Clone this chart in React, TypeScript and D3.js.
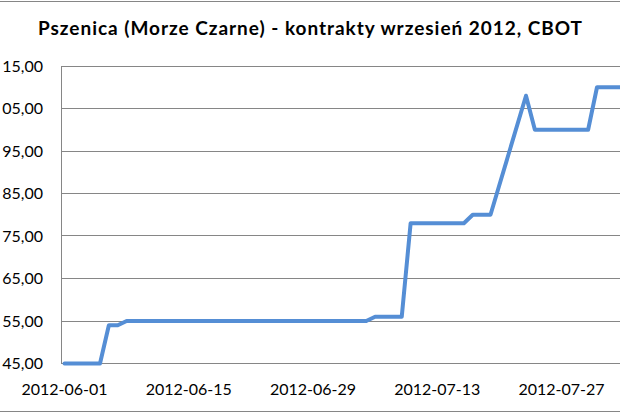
import React from 'react';
import * as d3 from 'd3';

const TITLE = 'Pszenica (Morze Czarne) - kontrakty wrzesień 2012, CBOT';

const dates: string[] = [
  '2012-06-01', '2012-06-04', '2012-06-05', '2012-06-06', '2012-06-07', '2012-06-08',
  '2012-06-11', '2012-06-12', '2012-06-13', '2012-06-14', '2012-06-15',
  '2012-06-18', '2012-06-19', '2012-06-20', '2012-06-21', '2012-06-22',
  '2012-06-25', '2012-06-26', '2012-06-27', '2012-06-28', '2012-06-29',
  '2012-07-02', '2012-07-03', '2012-07-05', '2012-07-06',
  '2012-07-09', '2012-07-10', '2012-07-11', '2012-07-12', '2012-07-13',
  '2012-07-16', '2012-07-17', '2012-07-18', '2012-07-19', '2012-07-20',
  '2012-07-23', '2012-07-24', '2012-07-25', '2012-07-26', '2012-07-27',
  '2012-07-30', '2012-07-31', '2012-08-01', '2012-08-02', '2012-08-03',
];

const prices: number[] = [
  45, 45, 45, 54, 54, 55,
  55, 55, 55, 55, 55,
  55, 55, 55, 55, 55,
  55, 55, 55, 55, 55,
  55, 55, 55, 56,
  56, 78, 78, 78, 78,
  78, 80, 80, 80, 87,
  108, 100, 100, 100, 100,
  100, 110, 110, 110, 110,
];

const yTicks: number[] = [45, 55, 65, 75, 85, 95, 105, 115];
const yTickLabels: string[] = ['45,00', '55,00', '65,00', '75,00', '85,00', '95,00', '05,00', '15,00'];
const xTickDates: string[] = ['2012-06-01', '2012-06-15', '2012-06-29', '2012-07-13', '2012-07-27'];

const W = 620;
const H = 413;
const plotLeft = 61.5;
const plotRight = 620;
const plotTop = 66;
const plotBottom = 363.5;

const FONT = 'Lato, "Liberation Sans", sans-serif';
const GRID = '#868686';
const LINE = '#558ed5';

export default function App() {
  const parse = d3.utcParse('%Y-%m-%d');
  const x = d3
    .scaleUtc()
    .domain([parse('2012-06-01')!, parse('2012-07-27')!])
    .range([64.5, 561.5]);
  const y = d3.scaleLinear().domain([45, 115]).range([plotBottom, plotTop]);

  const pts = dates.map((d, i) => ({ date: parse(d)!, v: prices[i] }));
  const line = d3
    .line<{ date: Date; v: number }>()
    .x((d) => x(d.date))
    .y((d) => y(d.v));

  return (
    <svg
      width={W}
      height={H}
      style={{ position: 'absolute', left: 0, top: 0, background: '#fff' }}
    >
      <rect x={0} y={0} width={W} height={H} fill="#fff" />
      <line x1={0} x2={W} y1={1.5} y2={1.5} stroke={GRID} strokeWidth={1} shapeRendering="crispEdges" />
      <line x1={0} x2={W} y1={411.5} y2={411.5} stroke={GRID} strokeWidth={1} shapeRendering="crispEdges" />

      <text
        x={W / 2}
        y={35}
        textAnchor="middle"
        fontFamily={FONT}
        fontWeight="bold"
        fontSize={19}
        fill="#000"
        textLength={544}
        lengthAdjust="spacing"
      >
        {TITLE}
      </text>

      <defs>
        <clipPath id="plotClip">
          <rect x={plotLeft} y={plotTop - 10} width={plotRight - plotLeft} height={plotBottom - plotTop + 20} />
        </clipPath>
      </defs>

      {yTicks.map((t) => {
        const yy = Math.round(y(t) - 0.5) + 0.5;
        return (
          <line
            key={'g' + t}
            x1={plotLeft}
            x2={plotRight}
            y1={yy}
            y2={yy}
            stroke={GRID}
            strokeWidth={1}
            shapeRendering="crispEdges"
          />
        );
      })}
      <line
        x1={plotLeft}
        x2={plotLeft}
        y1={plotTop}
        y2={plotBottom}
        stroke={GRID}
        strokeWidth={1}
        shapeRendering="crispEdges"
      />

      {yTicks.map((t, i) => (
        <text
          key={'yl' + t}
          x={43}
          y={y(t)}
          dy="0.36em"
          textAnchor="end"
          fontFamily={FONT}
          fontSize={16}
          fill="#000"
        >
          {yTickLabels[i]}
        </text>
      ))}

      {xTickDates.map((d) => (
        <text
          key={'xl' + d}
          x={x(parse(d)!)}
          y={395}
          textAnchor="middle"
          fontFamily={FONT}
          fontSize={16}
          fill="#000"
        >
          {d}
        </text>
      ))}

      <path
        d={line(pts) || ''}
        fill="none"
        stroke={LINE}
        strokeWidth={4}
        strokeLinejoin="round"
        strokeLinecap="round"
        clipPath="url(#plotClip)"
      />
    </svg>
  );
}
